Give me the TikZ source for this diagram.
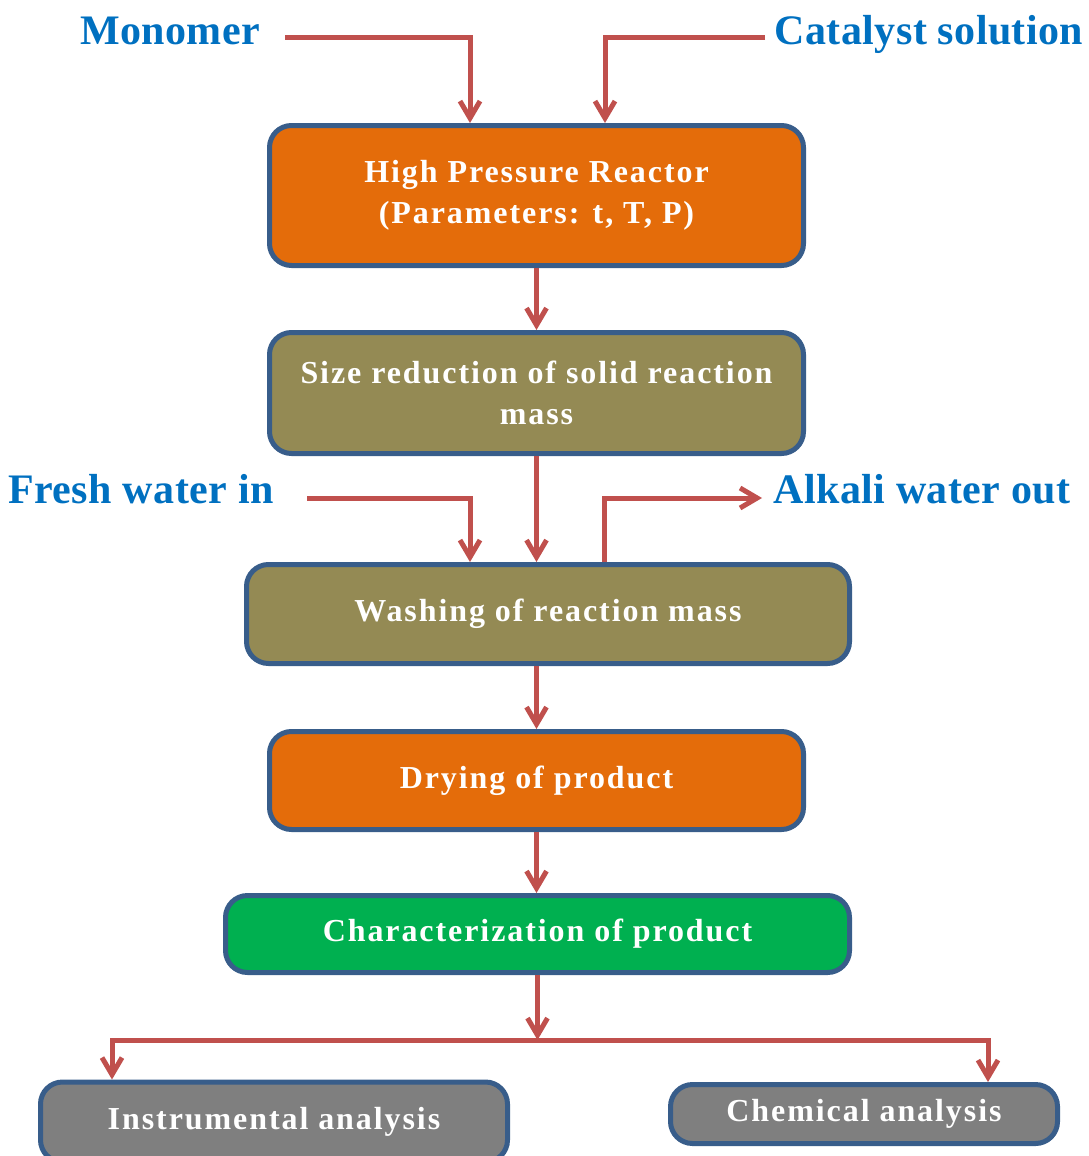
\documentclass[tikz,border=0pt]{standalone}
\usepackage{fontspec}
\setmainfont{Liberation Serif}
\newfontfamily\stagefont[LetterSpace=6]{Liberation Serif}
\newfontfamily\feedfont[LetterSpace=1]{Liberation Serif}
\usetikzlibrary{arrows.meta}

\definecolor{flowred}{HTML}{C0504D}
\definecolor{boxblue}{HTML}{385D8A}
\definecolor{labblue}{HTML}{0070C0}
\definecolor{orangefill}{HTML}{E46C0A}
\definecolor{olivefill}{HTML}{948A54}
\definecolor{greenfill}{HTML}{00B050}
\definecolor{grayfill}{HTML}{7F7F7F}

\begin{document}
\begin{tikzpicture}[x=1pt, y=-1pt,
		stage/.style={draw=boxblue, fill=#1, line width=5pt, rounded corners=22pt, text=white,
			font=\stagefont\bfseries\fontsize{32}{41}\selectfont, align=center, inner sep=0pt},
		feed/.style={text=labblue, font=\feedfont\bfseries\fontsize{42}{44}\selectfont, inner sep=0pt, anchor=base},
		flow/.style={draw=flowred, line width=5pt, -{Straight Barb[length=17pt,width=20pt]}}
		]
		
		% page frame
		\clip (0,0) rectangle (1088,1156);
		\useasboundingbox (0,0) rectangle (1088,1156);
		
		% ==========================================
		% PROCESS STAGES
		% ==========================================
		\node[stage=orangefill, minimum width=534pt, minimum height=140pt] (reactor) at (536.5,195.5)
			{High Pressure Reactor\\(Parameters: t, T, P)};
		\node[stage=olivefill, minimum width=534pt, minimum height=121pt] (sizered) at (536.5,393)
			{Size reduction of solid reaction\\mass};
		\node[stage=olivefill, minimum width=603pt, minimum height=99pt] (washing) at (548,614)
			{Washing of reaction mass};
		\node[stage=orangefill, minimum width=534pt, minimum height=98pt] (drying) at (536.5,780.5)
			{Drying of product};
		\node[stage=greenfill, minimum width=624pt, minimum height=77pt] (charac) at (537.5,934)
			{Characterization of product};
		\node[stage=grayfill, minimum width=467pt, minimum height=80pt] (instr) at (274,1122)
			{Instrumental analysis};
		\node[stage=grayfill, minimum width=387pt, minimum height=59pt] (chem) at (864,1114)
			{Chemical analysis};
		
		% ==========================================
		% FEEDS IN AND OUT
		% ==========================================
		\node[feed] (mono) at (170,45) {Monomer};
		\node[feed] (cata) at (929,45) {Catalyst solution};
		\node[feed] (fresh) at (141,503) {Fresh water in};
		\node[feed] (alkali) at (922,503) {Alkali water out};
		
		\coordinate (mono-s) at (285,38);
		\coordinate (cata-s) at (765,38);
		\coordinate (fresh-s) at (307,498);
		\coordinate (alkali-e) at (762,498);
		\coordinate (split) at (537.5,1040);
		
		\draw[flow] (mono-s) -| ([xshift=-66.5pt]reactor.north);
		\draw[flow] (cata-s) -| ([xshift=68.5pt]reactor.north);
		\draw[flow] (fresh-s) -| ([xshift=-78pt]washing.north);
		\draw[flow] ([xshift=56pt]washing.north) |- (alkali-e);
		
		% ==========================================
		% MAIN LINE
		% ==========================================
		\draw[flow] (reactor) -- (sizered);
		\draw[flow] (sizered.south) -- (sizered.south |- washing.north);
		\draw[flow] (washing.south -| drying.north) -- (drying.north);
		\draw[flow] (drying) -- (charac.north -| drying.north);
		\draw[flow] (charac.south) -- (split);
		
		% split to the two analyses
		\draw[flow] (split) -| ([xshift=-162pt]instr.north);
		\draw[flow] (split) -| ([xshift=124pt]chem.north);
		
	\end{tikzpicture}
\end{document}
